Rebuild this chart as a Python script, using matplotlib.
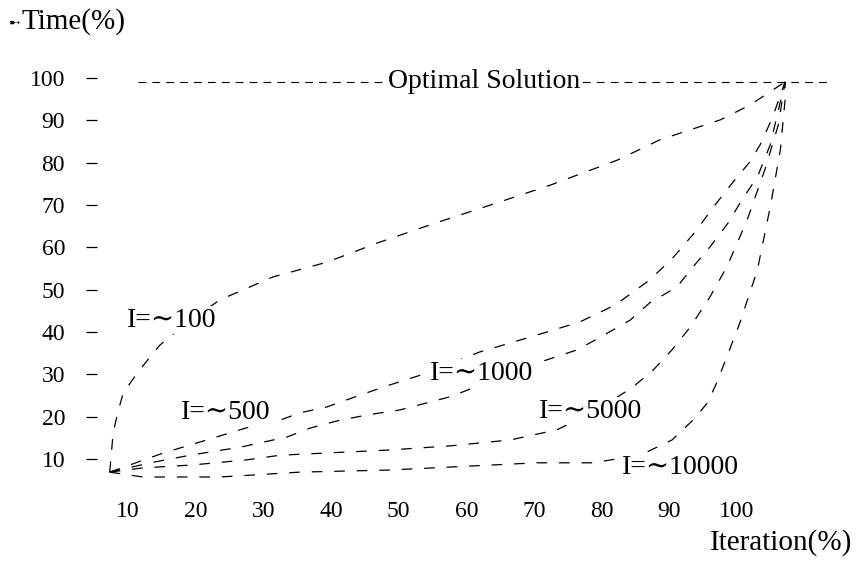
import matplotlib
matplotlib.use("Agg")
import matplotlib.pyplot as plt

# ---- data ----
x_ticks = [10, 20, 30, 40, 50, 60, 70, 80, 90, 100]
y_ticks = [10, 20, 30, 40, 50, 60, 70, 80, 90, 100]

optimal_y = 99.1
optimal_x = [11.5, 114.1]

i100_x = [7.3, 7.8, 8.5, 9.3, 11.5, 14.7, 19.2, 23.6, 31.4, 39.4, 46.8, 54.6, 64.5, 72.4, 82.3, 88.6, 97.5, 101.9, 107.1]
i100_y = [6.9, 16.1, 21.1, 25.6, 30.6, 36.9, 42.8, 47.6, 53.0, 56.5, 61.0, 65.3, 70.5, 74.7, 80.6, 85.4, 90.1, 93.6, 99.1]

i500_x = [7.3, 15.2, 20.6, 28.0, 32.5, 35.4, 39.4, 44.3, 48.7, 53.2, 62.0, 66.9, 71.9, 76.8, 82.0, 87.1, 90.5, 93.8, 96.5, 99.4, 101.9, 103.4, 105.2, 107.1]
i500_y = [6.9, 11.4, 14.0, 17.6, 19.2, 20.9, 22.3, 25.1, 27.5, 29.8, 35.3, 37.6, 40.0, 42.4, 46.4, 52.3, 57.5, 63.6, 69.5, 75.4, 80.2, 84.2, 90.5, 99.1]

i1000_x = [7.3, 13.3, 19.2, 26.6, 33.5, 36.9, 40.9, 45.3, 50.2, 57.6, 70.9, 76.4, 79.8, 84.2, 87.1, 91.1, 93.5, 96.0, 98.7, 100.9, 103.0, 104.9, 107.1]
i1000_y = [6.9, 9.1, 10.9, 12.8, 15.2, 17.3, 19.0, 20.4, 21.6, 24.7, 32.9, 35.8, 38.8, 42.8, 46.9, 50.6, 55.4, 60.1, 65.8, 71.7, 76.6, 84.2, 99.1]

i5000_x = [7.3, 12.2, 19.6, 27.6, 32.5, 48.3, 57.6, 66.5, 73.4, 79.8, 84.6, 87.6, 90.4, 93.1, 96.0, 98.5, 101.5, 104.1, 106.1, 107.1]
i5000_y = [6.9, 7.9, 8.6, 9.8, 10.9, 12.1, 13.1, 14.5, 16.9, 22.0, 27.0, 31.0, 35.8, 41.2, 48.3, 55.4, 66.5, 78.3, 88.9, 99.1]

i10000_x = [7.3, 12.2, 23.6, 35.4, 48.7, 57.6, 70.4, 78.7, 85.7, 90.4, 93.5, 95.6, 97.0, 98.7, 100.4, 103.0, 104.9, 106.4, 107.1, 107.1]
i10000_y = [6.9, 5.75, 5.75, 6.9, 7.4, 8.1, 9.1, 9.1, 10.9, 14.5, 19.2, 23.2, 28.0, 35.0, 42.1, 54.6, 69.5, 83.0, 94.8, 99.1]

labels = ["I=∼100", "I=∼500", "I=∼1000", "I=∼5000", "I=∼10000"]
label_x = [16.4, 24.5, 62.3, 78.4, 91.6]
label_y = [42.8, 20.9, 30.3, 21.3, 8.1]

# ---- figure ----
SERIF = ["Liberation Serif", "DejaVu Serif"]
plt.rcParams["font.family"] = SERIF

W, H = 857, 568
fig = plt.figure(figsize=(W / 100, H / 100), dpi=100)
L, R, T, B = 97, 850, 60, 490
ax = fig.add_axes([L / W, (H - B) / H, (R - L) / W, (B - T) / H])
ax.set_xlim(5.419, 116.694)
ax.set_ylim(2.677, 104.26)
for s in ax.spines.values():
    s.set_visible(False)

ls_curve = (0, (8.5, 9.5))
lw = 0.9
for xs, ys in [(i100_x, i100_y), (i500_x, i500_y), (i1000_x, i1000_y),
               (i5000_x, i5000_y), (i10000_x, i10000_y)]:
    ax.plot(xs, ys, color="black", lw=lw, linestyle=ls_curve, clip_on=False)

ax.plot(optimal_x, [optimal_y, optimal_y], color="black", lw=0.8,
        linestyle=(0, (7, 5.5)), clip_on=False)
ax.text(62.6, optimal_y, "Optimal Solution", fontsize=20, ha="center", va="center",
        bbox=dict(facecolor="white", edgecolor="none", pad=1.5))

for t, lx, ly in zip(labels, label_x, label_y):
    ax.text(lx, ly, t, fontsize=20, ha="center", va="center",
            bbox=dict(facecolor="white", edgecolor="none", pad=1.0))

ax.set_xticks(x_ticks)
ax.set_xticklabels([str(v) for v in x_ticks], fontsize=17)
ax.tick_params(axis="x", length=0, pad=8)
ax.set_yticks(y_ticks)
ax.set_yticklabels([str(v) for v in y_ticks], fontsize=17)
ax.tick_params(axis="y", length=8, width=0.9, pad=15)

fig.text(8 / W, 1 - 22 / H, "➸", fontsize=10, family=["DejaVu Sans"], va="center", ha="left")
fig.text(22 / W, 1 - 22 / H, "Time(%)", fontsize=21, va="center", ha="left")
fig.text(781 / W, 1 - 543 / H, "Iteration(%)", fontsize=21, va="center", ha="center")

fig.savefig("out.png", dpi=100)
